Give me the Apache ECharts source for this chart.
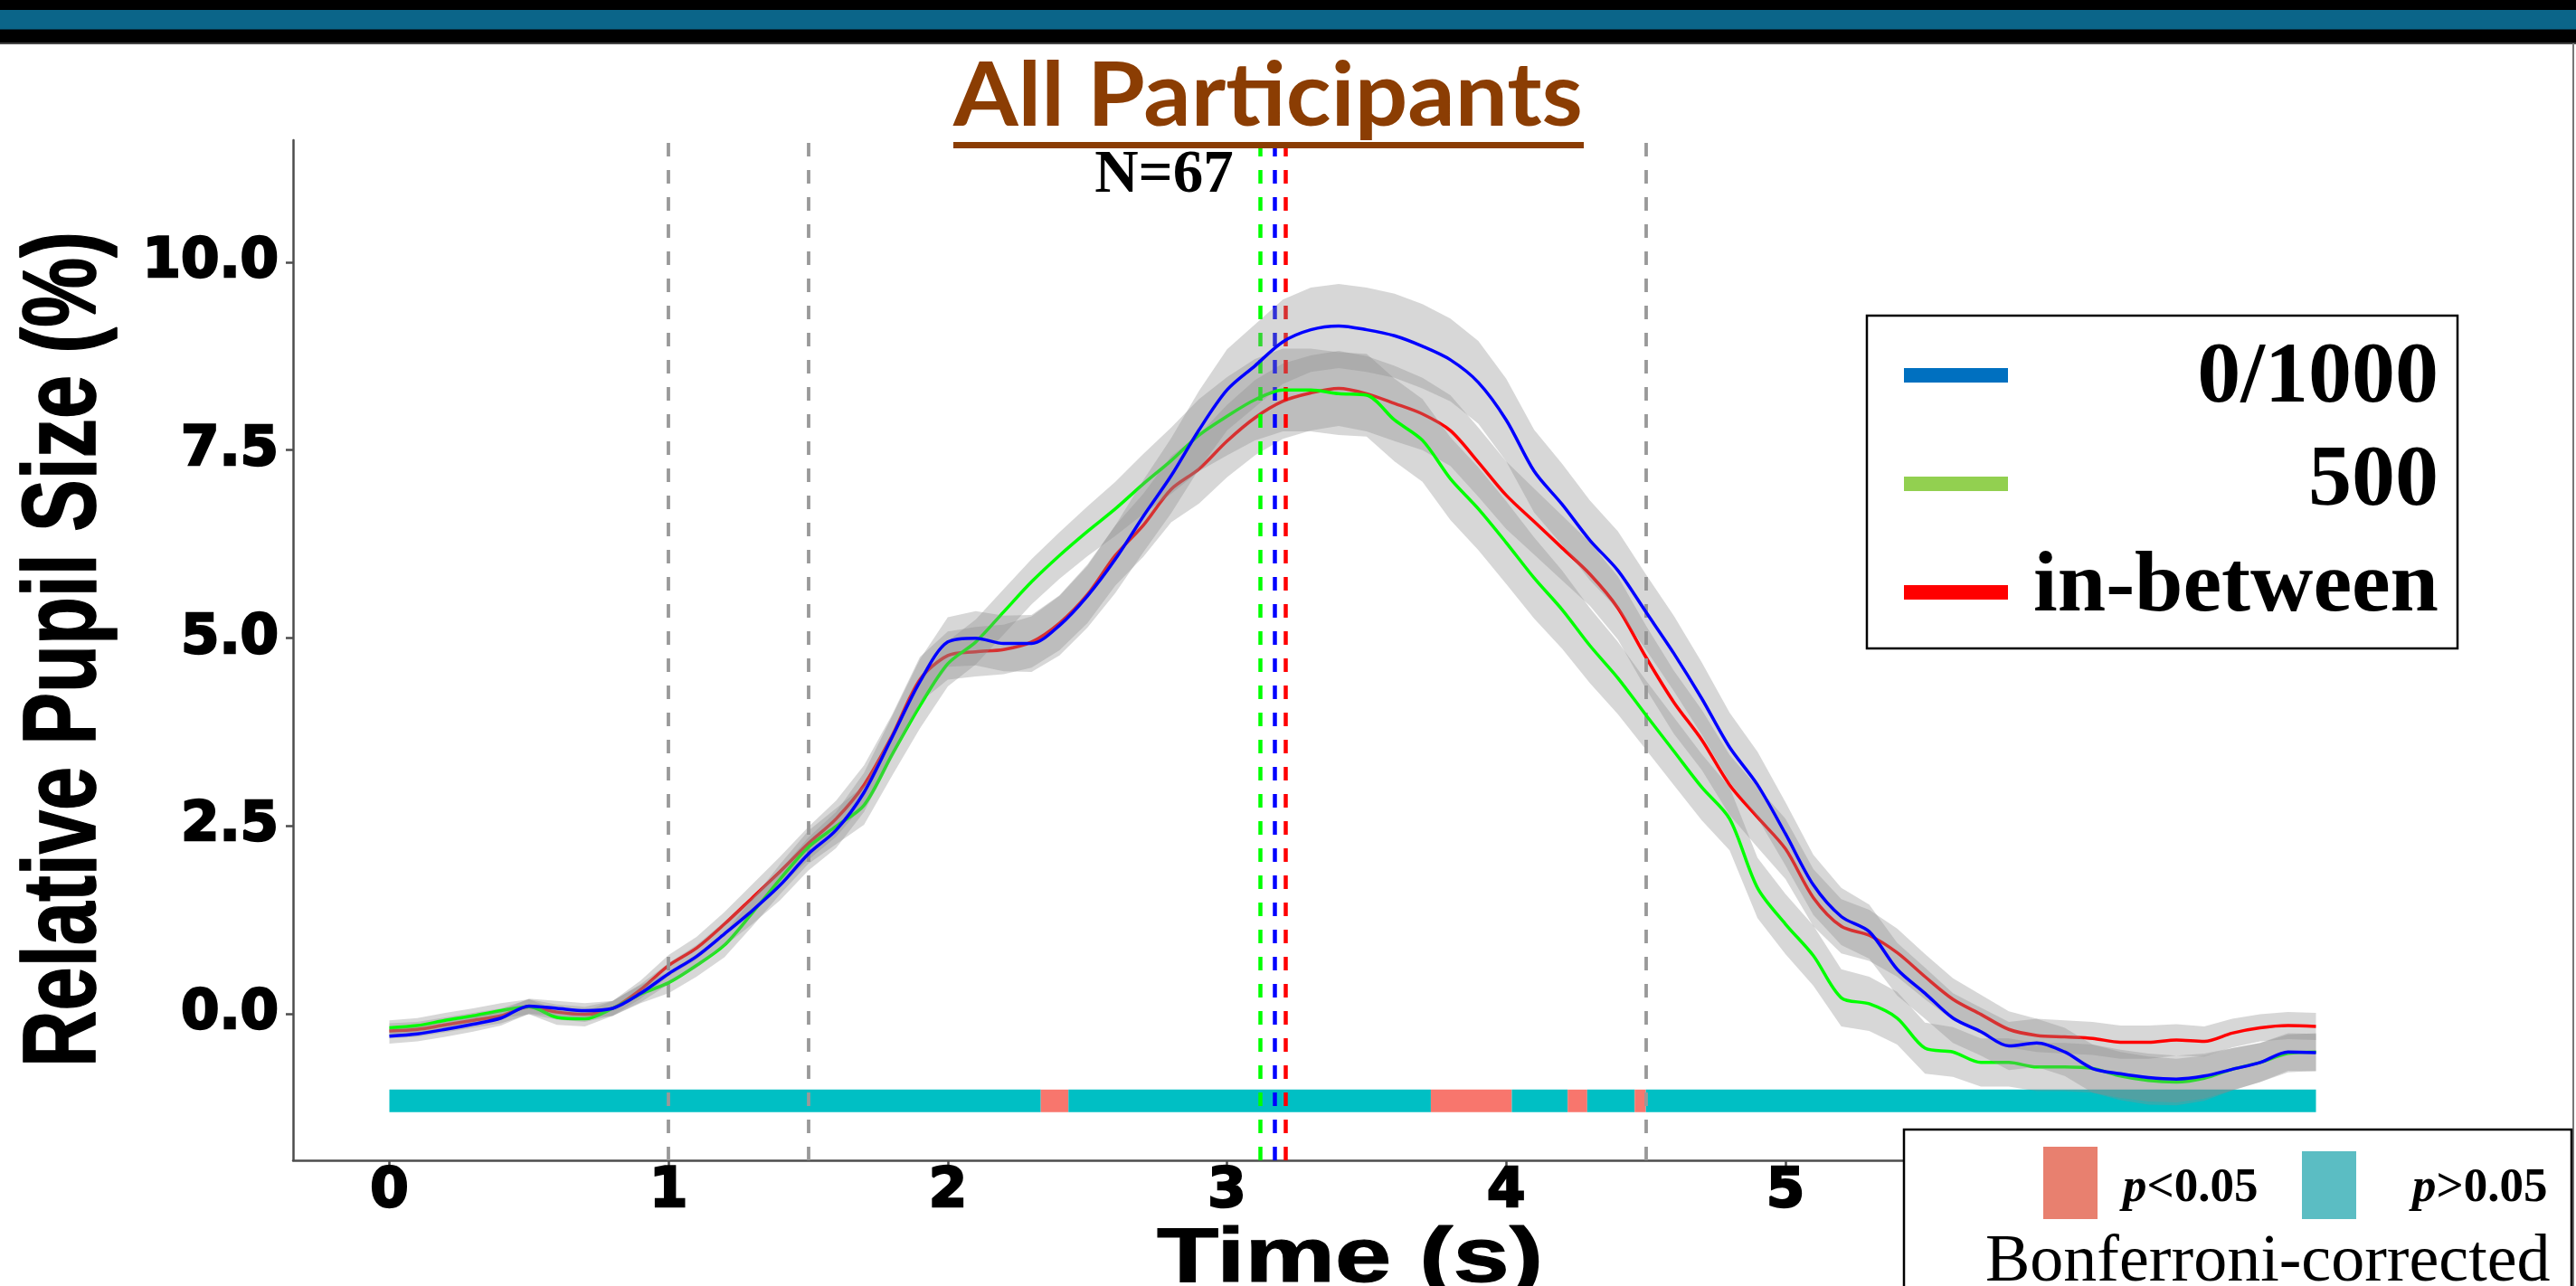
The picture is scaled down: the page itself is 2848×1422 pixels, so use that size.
<!DOCTYPE html>
<html><head><meta charset="utf-8">
<script src="https://cdn.jsdelivr.net/npm/echarts@6/dist/echarts.min.js"></script>
<style>html,body{margin:0;padding:0;background:#fff;}#c{width:2848px;height:1422px;}</style>
</head><body><div id="c"></div>
<script>
// ---- data ----
const times = [0.0,0.1,0.2,0.3,0.4,0.5,0.6,0.7,0.8,0.9,1.0,1.1,1.2,1.3,1.4,1.5,1.6,1.7,1.8,1.9,2.0,2.1,2.2,2.3,2.4,2.5,2.6,2.7,2.8,2.9,3.0,3.1,3.2,3.3,3.4,3.5,3.6,3.7,3.8,3.9,4.0,4.1,4.2,4.3,4.4,4.5,4.6,4.7,4.8,4.9,5.0,5.1,5.2,5.3,5.4,5.5,5.6,5.7,5.8,5.9,6.0,6.1,6.2,6.3,6.4,6.5,6.6,6.7,6.8,6.9];
const seriesNames = ['0/1000','500','in-between'];
const blueVals = [-0.29,-0.26,-0.20,-0.13,-0.05,0.11,0.08,0.05,0.08,0.28,0.54,0.77,1.07,1.38,1.72,2.13,2.45,2.95,3.68,4.42,4.95,5.00,4.93,4.93,5.17,5.56,6.05,6.62,7.16,7.77,8.30,8.62,8.94,9.10,9.15,9.10,9.02,8.88,8.70,8.40,7.90,7.22,6.78,6.30,5.90,5.35,4.80,4.20,3.55,3.05,2.40,1.72,1.30,1.10,0.60,0.28,-0.05,-0.23,-0.42,-0.38,-0.50,-0.72,-0.79,-0.84,-0.86,-0.82,-0.73,-0.64,-0.50,-0.51];
const greenVals = [-0.18,-0.15,-0.08,-0.02,0.05,0.10,-0.04,-0.06,0.08,0.27,0.42,0.65,0.92,1.35,1.80,2.22,2.50,2.78,3.45,4.10,4.66,4.95,5.35,5.75,6.10,6.42,6.72,7.05,7.36,7.70,7.95,8.17,8.30,8.30,8.25,8.23,7.90,7.63,7.12,6.72,6.27,5.80,5.38,4.90,4.47,3.98,3.50,3.02,2.60,1.68,1.20,0.78,0.22,0.14,-0.05,-0.45,-0.50,-0.64,-0.64,-0.70,-0.70,-0.72,-0.82,-0.88,-0.90,-0.85,-0.73,-0.64,-0.52,-0.50];
const redVals = [-0.22,-0.20,-0.14,-0.08,-0.02,0.10,0.03,0.00,0.08,0.33,0.65,0.88,1.20,1.55,1.90,2.27,2.60,3.05,3.70,4.45,4.77,4.82,4.85,4.95,5.20,5.58,6.10,6.50,6.98,7.25,7.62,7.93,8.15,8.26,8.32,8.25,8.12,7.98,7.76,7.34,6.90,6.55,6.20,5.85,5.40,4.75,4.15,3.65,3.05,2.62,2.20,1.55,1.17,1.05,0.82,0.50,0.20,0.00,-0.20,-0.28,-0.30,-0.32,-0.37,-0.37,-0.34,-0.36,-0.25,-0.18,-0.15,-0.16];
const blueSE = [0.10,0.10,0.10,0.10,0.10,0.10,0.10,0.10,0.10,0.12,0.14,0.15,0.16,0.18,0.20,0.22,0.24,0.26,0.28,0.30,0.33,0.36,0.37,0.38,0.40,0.42,0.45,0.48,0.50,0.52,0.54,0.55,0.56,0.56,0.56,0.56,0.56,0.56,0.55,0.55,0.55,0.55,0.54,0.53,0.52,0.50,0.50,0.48,0.46,0.44,0.42,0.40,0.38,0.36,0.35,0.34,0.33,0.32,0.32,0.32,0.32,0.32,0.32,0.32,0.31,0.30,0.28,0.26,0.25,0.25];
const greenSE = [0.10,0.10,0.10,0.10,0.10,0.10,0.10,0.10,0.10,0.12,0.14,0.15,0.16,0.18,0.20,0.22,0.24,0.26,0.28,0.30,0.30,0.30,0.30,0.30,0.31,0.33,0.36,0.40,0.44,0.48,0.52,0.54,0.55,0.55,0.55,0.55,0.55,0.55,0.55,0.55,0.55,0.54,0.52,0.50,0.48,0.46,0.45,0.44,0.42,0.40,0.40,0.40,0.38,0.36,0.35,0.34,0.33,0.32,0.32,0.32,0.32,0.32,0.32,0.32,0.31,0.30,0.28,0.26,0.25,0.25];
const redSE = [0.10,0.10,0.10,0.10,0.10,0.10,0.10,0.10,0.10,0.12,0.14,0.15,0.16,0.18,0.20,0.22,0.24,0.26,0.28,0.30,0.32,0.33,0.33,0.34,0.36,0.38,0.40,0.42,0.44,0.46,0.48,0.50,0.50,0.50,0.50,0.50,0.50,0.48,0.47,0.46,0.45,0.44,0.43,0.42,0.42,0.42,0.42,0.40,0.40,0.40,0.40,0.38,0.36,0.34,0.32,0.30,0.28,0.26,0.24,0.22,0.22,0.22,0.22,0.22,0.21,0.20,0.19,0.18,0.18,0.18];
const xTicks = [0,1,2,3,4,5,6];
const yTicks = [0,2.5,5,7.5,10];
const sigStart = [0,2.333,2.432,3.73,4.02,4.22,4.29,4.46,4.50];
const sigEnd   = [2.333,2.432,3.73,4.02,4.22,4.29,4.46,4.50,6.9];
const sigFlag  = [0,1,0,1,0,1,0,1,0];
const refLines = [1, 1.5, 4.5];
const peakLines = [3.117, 3.166, 3.21];

// ---- helpers ----
const mctx = document.createElement('canvas').getContext('2d');
function tw(text, font){ mctx.font = font; return mctx.measureText(text).width; }
const RIB = 'rgba(140,140,140,0.35)';
const peakColors = ['#00FF00','#0000FF','#FF0000'];

function ribbon(vals, se, z){
  return {
    type:'custom', z:z, silent:true, animation:false,
    data: times.map((t,i)=>[t, vals[i]-se[i], vals[i]+se[i]]),
    encode:{x:0, y:[1,2]},
    renderItem:function(params, api){
      if (params.dataIndex !== 0) return null;
      const up=[], lo=[];
      for (let i=0;i<times.length;i++){
        up.push(api.coord([times[i], vals[i]+se[i]]));
        lo.push(api.coord([times[i], vals[i]-se[i]]));
      }
      return {type:'polygon', shape:{points: up.concat(lo.reverse())}, style:{fill:RIB}};
    }
  };
}
function line(name, vals, color, z, extra){
  return Object.assign({
    name:name, type:'line', z:z, showSymbol:false, symbol:'none', smooth:0.3, silent:true, animation:false,
    data: times.map((t,i)=>[t, vals[i]]),
    lineStyle:{color:color, width:3.5}, itemStyle:{color:color}
  }, extra||{});
}

const markLines = refLines.map(x=>({xAxis:x, lineStyle:{color:'#999999', width:3.8, type:[15,15]}}))
  .concat(peakLines.map((x,i)=>({xAxis:x, lineStyle:{color:peakColors[i], width:4.5, type:[15,15]}})));

const TXT = (o)=>Object.assign({align:o.textAlign, verticalAlign:o.textVerticalAlign}, o);

const titleFont = 'bold 97px Lato';
const yTitleFont = 'bold 86px "Liberation Sans"';
const xTitleFont = 'bold 86px "Liberation Sans"';
const legFont = 'bold 96px "Liberation Serif"';
const pFontI = 'italic bold 53px "Liberation Serif"';
const pFont = 'bold 53px "Liberation Serif"';
const pW = tw('p', pFontI);

const graphics = [
  {type:'rect', z:100, shape:{x:0,y:0,width:2848,height:48}, style:{fill:'#000'}},
  {type:'rect', z:101, shape:{x:0,y:11,width:2848,height:21.5}, style:{fill:'#0B6589'}},
  {type:'rect', z:101, shape:{x:0,y:47,width:2848,height:2}, style:{fill:'#444'}},
  {type:'rect', z:101, shape:{x:2844,y:48,width:2,height:1374}, style:{fill:'#777'}},
  // title
  {type:'text', z:102, x:1402, y:108, scaleX: 696/tw('All Participants', titleFont),
   style:TXT({text:'All Participants', font:titleFont, fill:'#8B3D03', textAlign:'center', textVerticalAlign:'middle'})},
  {type:'rect', z:102, shape:{x:1054,y:157,width:697,height:7}, style:{fill:'#8B3D03'}},
  {type:'text', z:102, x:1287, y:194.5,
   style:TXT({text:'N=67', font:'bold 67px "Liberation Serif"', fill:'#000', textAlign:'center', textVerticalAlign:'middle'})},
  // axis titles
  {type:'text', z:102, x:73.5, y:718, rotation:Math.PI/2, scaleX: 924/tw('Relative Pupil Size (%)', yTitleFont), scaleY:1.34,
   style:TXT({text:'Relative Pupil Size (%)', font:yTitleFont, fill:'#000', stroke:'#000', lineWidth:1.2, textAlign:'center', textVerticalAlign:'middle'})},
  {type:'text', z:102, x:1492.5, y:1393, scaleX: 427/tw('Time (s)', xTitleFont),
   style:TXT({text:'Time (s)', font:xTitleFont, fill:'#000', stroke:'#000', lineWidth:1.2, textAlign:'center', textVerticalAlign:'middle'})},
  // legend (series)
  {type:'rect', z:102, shape:{x:2064,y:349,width:653,height:368}, style:{fill:'#fff', stroke:'#000', lineWidth:2.5}},
  {type:'rect', z:103, shape:{x:2105,y:407,width:115,height:16}, style:{fill:'#0070C0'}},
  {type:'rect', z:103, shape:{x:2105,y:527,width:115,height:16}, style:{fill:'#92D050'}},
  {type:'rect', z:103, shape:{x:2105,y:647,width:115,height:16}, style:{fill:'#FF0000'}},
  {type:'text', z:103, x:2696, y:419.7, style:TXT({text:seriesNames[0], font:legFont, fill:'#000', textAlign:'right', textVerticalAlign:'middle'})},
  {type:'text', z:103, x:2696, y:533.5, style:TXT({text:seriesNames[1], font:legFont, fill:'#000', textAlign:'right', textVerticalAlign:'middle'})},
  {type:'text', z:103, x:2696, y:650, style:TXT({text:seriesNames[2], font:legFont, fill:'#000', textAlign:'right', textVerticalAlign:'middle'})},
  // legend (significance)
  {type:'rect', z:102, shape:{x:2105,y:1249,width:738,height:200}, style:{fill:'#fff', stroke:'#000', lineWidth:2.5}},
  {type:'rect', z:103, shape:{x:2259,y:1268,width:60,height:80}, style:{fill:'#E8806F'}},
  {type:'rect', z:103, shape:{x:2545,y:1273,width:60,height:75}, style:{fill:'#5BBDC3'}},
  {type:'text', z:103, x:2347, y:1314, style:TXT({text:'p', font:pFontI, fill:'#000', textAlign:'left', textVerticalAlign:'middle'})},
  {type:'text', z:103, x:2347+pW, y:1314, style:TXT({text:'<0.05', font:pFont, fill:'#000', textAlign:'left', textVerticalAlign:'middle'})},
  {type:'text', z:103, x:2667, y:1314, style:TXT({text:'p', font:pFontI, fill:'#000', textAlign:'left', textVerticalAlign:'middle'})},
  {type:'text', z:103, x:2667+pW, y:1314, style:TXT({text:'>0.05', font:pFont, fill:'#000', textAlign:'left', textVerticalAlign:'middle'})},
  {type:'text', z:103, x:2195, y:1396.5, style:TXT({text:'Bonferroni-corrected', font:'74px "Liberation Serif"', fill:'#000', textAlign:'left', textVerticalAlign:'middle'})}
];

const axisCommon = {
  axisLine:{show:true, onZero:false, lineStyle:{color:'#4d4d4d', width:2.5}},
  splitLine:{show:false}
};

const option = {
  animation:false,
  backgroundColor:'#ffffff',
  grid:{left:324, right:181, top:155, bottom:139, containLabel:false, outerBoundsMode:'none'},
  xAxis: Object.assign({}, axisCommon, {
    type:'value', min:-0.345, max:7.245,
    axisTick:{show:true, length:8, customValues:xTicks, lineStyle:{color:'#4d4d4d', width:2.5}},
    axisLabel:{customValues:xTicks, formatter:(v)=>String(v), fontFamily:'DejaVu Sans', fontWeight:'bold', fontSize:61, color:'#000', textBorderColor:'#000', textBorderWidth:2.5, margin:5}
  }),
  yAxis: Object.assign({}, axisCommon, {
    type:'value', min:-1.94, max:11.62,
    axisTick:{show:true, length:8, customValues:yTicks, lineStyle:{color:'#4d4d4d', width:2.5}},
    axisLabel:{customValues:yTicks, formatter:(v)=>Number(v).toFixed(1), fontFamily:'DejaVu Sans', fontWeight:'bold', fontSize:61, color:'#000', textBorderColor:'#000', textBorderWidth:2.5, margin:16}
  }),
  series:[
    {
      type:'custom', z:1, silent:true, animation:false,
      data: sigStart.map((s,i)=>[s, sigEnd[i], sigFlag[i]]),
      encode:{x:[0,1]},
      renderItem:function(params, api){
        const a = api.coord([api.value(0), -1.0]);
        const b = api.coord([api.value(1), -1.3]);
        return {type:'rect', shape:{x:a[0], y:a[1], width:b[0]-a[0], height:b[1]-a[1]},
                style:{fill: api.value(2) ? '#F8766D' : '#00BFC4'}};
      }
    },
    ribbon(redVals, redSE, 2),
    line(seriesNames[2], redVals, '#FF0000', 3),
    ribbon(greenVals, greenSE, 4),
    line(seriesNames[1], greenVals, '#00FF00', 5),
    ribbon(blueVals, blueSE, 6),
    line(seriesNames[0], blueVals, '#0000FF', 7, {
      markLine:{silent:true, symbol:'none', animation:false, label:{show:false}, emphasis:{disabled:true},
        lineStyle:{type:[15,15]}, data:markLines}
    })
  ],
  graphic:{elements:graphics}
};

const chart = echarts.init(document.getElementById('c'), null, {renderer:'canvas'});
chart.setOption(option);
</script>
</body></html>
